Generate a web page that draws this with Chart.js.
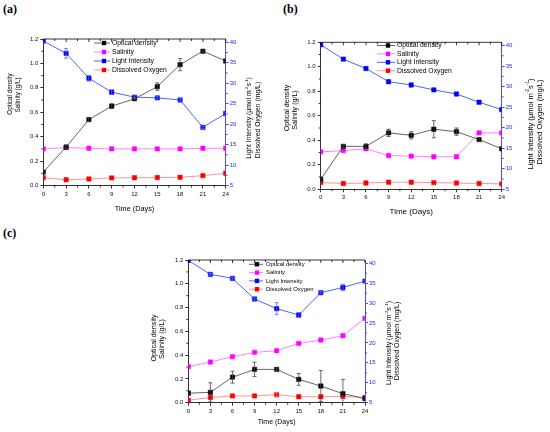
<!DOCTYPE html>
<html>
<head>
<meta charset="utf-8">
<script src="https://cdn.jsdelivr.net/npm/chart.js@4.4.1/dist/chart.umd.min.js"></script>
<style>
  body { margin: 0; background: #fff; }
  #wrap { position: relative; width: 550px; height: 432px; overflow: hidden; }
  canvas { position: absolute; }
  .lab { position: absolute; font: bold 12px "Liberation Serif", "DejaVu Serif", serif; color: #000; }
</style>
</head>
<body>
<div id="wrap">
  <div class="lab" style="left:3px;top:2px">(a)</div>
  <div class="lab" style="left:283px;top:2px">(b)</div>
  <div class="lab" style="left:3px;top:226px">(c)</div>
  <canvas id="ca" width="275" height="220" style="left:0;top:0"></canvas>
  <canvas id="cb" width="275" height="220" style="left:275px;top:0"></canvas>
  <canvas id="cc" width="290" height="212" style="left:130px;top:220px"></canvas>
</div>
<script>
// sampling days and tick labels
const days = [0, 3, 6, 9, 12, 15, 18, 21, 24];
const dayTicks = [0, 3, 6, 9, 12, 15, 18, 21, 24];
const leftTicks = [0, 0.2, 0.4, 0.6, 0.8, 1.0, 1.2];
const rightTicks = [5, 10, 15, 20, 25, 30, 35, 40];
const seriesNames = ['Optical density', 'Salinity', 'Light Intensity', 'Dissolved Oxygen'];

// (a)
const odA = [0.11, 0.315, 0.54, 0.65, 0.71, 0.81, 0.99, 1.10, 1.02];
const odErrA = [0.01, 0.01, 0.015, 0.02, 0.01, 0.03, 0.05, 0.01, 0.01];
const salA = [0.30, 0.31, 0.305, 0.30, 0.30, 0.30, 0.30, 0.305, 0.305];
const lightA = [40.3, 37.3, 31.2, 27.8, 26.6, 26.4, 25.9, 19.2, 22.6];
const lightErrA = [0.3, 1.2, 0.7, 0.6, 0.3, 0.3, 0.3, 0.3, 0.3];
const doA = [6.9, 6.4, 6.6, 6.85, 6.9, 6.95, 7.0, 7.4, 8.0];

// (b)
const odB = [0.08, 0.35, 0.35, 0.46, 0.44, 0.49, 0.47, 0.405, 0.33];
const odErrB = [0.02, 0.01, 0.02, 0.03, 0.03, 0.07, 0.03, 0.015, 0.01];
const salB = [0.305, 0.315, 0.33, 0.275, 0.27, 0.265, 0.265, 0.46, 0.46];
const lightB = [40.2, 36.7, 34.4, 31.2, 30.4, 29.2, 28.2, 26.2, 24.4];
const doB = [6.6, 6.4, 6.5, 6.7, 6.7, 6.6, 6.5, 6.4, 6.3];

// (c)
const odC = [0.08, 0.087, 0.215, 0.28, 0.28, 0.196, 0.14, 0.076, 0.034];
const odErrC = [0.02, 0.08, 0.05, 0.06, 0.01, 0.05, 0.13, 0.12, 0.01];
const salC = [0.303, 0.342, 0.387, 0.423, 0.437, 0.499, 0.527, 0.563, 0.709];
const lightC = [40.7, 37.2, 36.2, 31.0, 28.6, 27.0, 32.6, 33.9, 35.5];
const lightErrC = [0, 0.2, 0.2, 0.3, 1.5, 0.6, 0.3, 0.8, 0.3];
const doC = [5.6, 6.3, 6.7, 6.7, 7.0, 6.5, 6.5, 6.6, 6.3];
const doErrC = [0, 0, 0, 0, 0.5, 0, 0, 0, 0];

const FONT = '"Liberation Sans", Arial, sans-serif';
const BLUE = '#1f1fff';

// series look: line colour, marker colour
const styles = [
  { line: '#555555', mark: '#000000', err: '#444444' },
  { line: '#ff70ff', mark: '#ff00ff', err: '#ff66ff' },
  { line: '#4050ff', mark: '#0000ff', err: '#5566ff' },
  { line: '#ff8888', mark: '#ff0000', err: '#ff6666' }
];

function pts(vals) {
  return days.map((d, i) => ({ x: d, y: vals[i] }));
}

// rotated text made of pieces, [text, isSup]
function rotText(ctx, x, y, parts, size) {
  ctx.save();
  ctx.translate(x, y);
  ctx.rotate(-Math.PI / 2);
  ctx.fillStyle = '#000';
  ctx.textBaseline = 'middle';
  ctx.textAlign = 'left';
  let total = 0;
  parts.forEach(p => {
    ctx.font = (p[1] ? size * 0.62 : size) + 'px ' + FONT;
    total += ctx.measureText(p[0]).width;
  });
  let cx = -total / 2;
  parts.forEach(p => {
    ctx.font = (p[1] ? size * 0.62 : size) + 'px ' + FONT;
    ctx.fillText(p[0], cx, p[1] ? -size * 0.38 : 0);
    cx += ctx.measureText(p[0]).width;
  });
  ctx.restore();
}

function makeChart(id, P) {
  const errs = [P.odErr, null, P.lightErr || null, P.doErr || null];
  const vals = [P.od, P.sal, P.light, P.dox];
  const axes = ['y', 'y', 'y2', 'y2'];

  const datasets = vals.map((v, i) => ({
    label: seriesNames[i],
    data: pts(v),
    yAxisID: axes[i],
    errs: errs[i],
    borderColor: styles[i].line,
    borderWidth: 0.9,
    pointStyle: 'rect',
    pointRadius: 3.1,
    pointBackgroundColor: styles[i].mark,
    pointBorderColor: styles[i].mark,
    pointBorderWidth: 0.5,
    tension: 0
  }));

  const ox = P.canvas[0], oy = P.canvas[1];

  const decor = {
    id: 'decor',
    afterDatasetsDraw(chart) {
      const ctx = chart.ctx, a = chart.chartArea;
      ctx.save();
      ctx.beginPath();
      ctx.rect(a.left, a.top - 1, a.right - a.left, a.bottom - a.top + 2);
      ctx.clip();
      chart.data.datasets.forEach((ds, i) => {
        if (!ds.errs) return;
        const ys = chart.scales[ds.yAxisID];
        ctx.strokeStyle = styles[i].err;
        ctx.lineWidth = 0.8;
        ds.data.forEach((p, j) => {
          const e = ds.errs[j];
          if (!e) return;
          const px = chart.scales.x.getPixelForValue(p.x);
          const y1 = ys.getPixelForValue(p.y + e);
          const y2 = ys.getPixelForValue(p.y - e);
          ctx.beginPath();
          ctx.moveTo(px, y1); ctx.lineTo(px, y2);
          ctx.moveTo(px - 2, y1); ctx.lineTo(px + 2, y1);
          ctx.moveTo(px - 2, y2); ctx.lineTo(px + 2, y2);
          ctx.stroke();
        });
      });
      ctx.restore();
    },
    afterDraw(chart) {
      const ctx = chart.ctx, a = chart.chartArea;
      const sx = chart.scales.x, sy = chart.scales.y, sy2 = chart.scales.y2;
      ctx.save();
      ctx.lineWidth = 0.8;
      ctx.strokeStyle = '#000';
      // top frame with inward ticks
      ctx.beginPath();
      ctx.moveTo(a.left, a.top); ctx.lineTo(a.right, a.top);
      dayTicks.forEach(d => {
        const x = sx.getPixelForValue(d);
        ctx.moveTo(x, a.top); ctx.lineTo(x, a.top + 3);
        if (d < 24) {
          const xm = sx.getPixelForValue(d + 1.5);
          ctx.moveTo(xm, a.top); ctx.lineTo(xm, a.top + 2);
          ctx.moveTo(xm, a.bottom); ctx.lineTo(xm, a.bottom + 2);
        }
      });
      leftTicks.forEach(v => {
        if (v < 1.2) {
          const y = sy.getPixelForValue(v + 0.1);
          ctx.moveTo(a.left, y); ctx.lineTo(a.left - 2, y);
        }
      });
      ctx.stroke();
      ctx.strokeStyle = BLUE;
      ctx.beginPath();
      rightTicks.forEach(v => {
        const y = sy2.getPixelForValue(v + 2.5);
        if (y >= a.top) { ctx.moveTo(a.right, y); ctx.lineTo(a.right + 2, y); }
      });
      ctx.stroke();

      // legend inside the plot
      const L = P.legend;
      ctx.textBaseline = 'middle';
      ctx.textAlign = 'left';
      ctx.font = L.size + 'px ' + FONT;
      seriesNames.forEach((n, i) => {
        const y = L.y0 + i * L.dy - oy;
        ctx.strokeStyle = styles[i].line;
        ctx.lineWidth = 0.9;
        ctx.beginPath();
        ctx.moveTo(L.lx0 - ox, y); ctx.lineTo(L.lx1 - ox, y);
        ctx.stroke();
        ctx.fillStyle = styles[i].mark;
        ctx.fillRect(L.mx - ox - 2.2, y - 2.2, 4.4, 4.4);
        ctx.fillStyle = '#000';
        ctx.fillText(n, L.tx - ox, y);
      });

      // axis titles
      const T = P.titles;
      rotText(ctx, T.l1[0] - ox, T.l1[1] - oy, [['Optical density', false]], T.lsize);
      rotText(ctx, T.l2[0] - ox, T.l2[1] - oy, [['Salinity (g/L)', false]], T.lsize);
      rotText(ctx, T.r1[0] - ox, T.r1[1] - oy,
        [['Light Intensity (\u03bcmol m', false], ['-2', true], ['s', false], ['-1', true], [')', false]], T.rsize);
      rotText(ctx, T.r2[0] - ox, T.r2[1] - oy, [['Dissolved Oxygen (mg/L)', false]], T.rsize);
      ctx.fillStyle = '#000';
      ctx.textAlign = 'center';
      ctx.font = T.xsize + 'px ' + FONT;
      ctx.fillText('Time (Days)', (a.left + a.right) / 2, T.xy - oy);
      ctx.restore();
    }
  };

  const tickFont = { size: P.tick, family: FONT };

  return new Chart(document.getElementById(id), {
    type: 'line',
    data: { datasets },
    plugins: [decor],
    options: {
      responsive: false,
      animation: false,
      devicePixelRatio: 1,
      layout: { padding: { top: P.area[2] - oy, left: 0, right: 0, bottom: 0 } },
      plugins: { legend: { display: false }, tooltip: { enabled: false } },
      scales: {
        x: {
          type: 'linear', min: 0, max: 24,
          afterBuildTicks: s => { s.ticks = dayTicks.map(v => ({ value: v })); },
          afterFit: s => { s.height = oy + P.canvas[3] - P.area[3]; },
          border: { color: '#000', width: 0.8 },
          grid: { drawOnChartArea: false, tickLength: 3, color: '#000', lineWidth: 0.8 },
          ticks: { font: tickFont, color: '#111', padding: 2, maxRotation: 0, autoSkip: false }
        },
        y: {
          position: 'left', min: 0, max: 1.2,
          afterBuildTicks: s => { s.ticks = leftTicks.map(v => ({ value: v })); },
          afterFit: s => { s.width = P.area[0] - ox; },
          border: { color: '#000', width: 0.8 },
          grid: { drawOnChartArea: false, tickLength: 3, color: '#000', lineWidth: 0.8 },
          ticks: { font: tickFont, color: '#111', padding: 2, callback: v => v.toFixed(1) }
        },
        y2: {
          position: 'right', min: 5, max: 40.8,
          afterBuildTicks: s => { s.ticks = rightTicks.map(v => ({ value: v })); },
          afterFit: s => { s.width = ox + P.canvas[2] - P.area[1]; },
          border: { color: BLUE, width: 0.8 },
          grid: { drawOnChartArea: false, tickLength: 3, color: BLUE, lineWidth: 0.8 },
          ticks: { font: tickFont, color: BLUE, padding: 1 }
        }
      }
    }
  });
}

makeChart('ca', {
  canvas: [0, 0, 275, 220], area: [43.3, 225.7, 39, 185.5], tick: 6,
  od: odA, odErr: odErrA, sal: salA, light: lightA, lightErr: lightErrA, dox: doA,
  legend: { lx0: 94, lx1: 110, mx: 104, tx: 112, y0: 43, dy: 9, size: 6.8 },
  titles: { l1: [10, 94], l2: [18, 95], lsize: 6.3, r1: [249.5, 118], r2: [258, 120], rsize: 6.8, xsize: 7.3, xy: 209 }
});
makeChart('cb', {
  canvas: [275, 0, 275, 220], area: [320.7, 501.7, 42.3, 189.2], tick: 6,
  od: odB, odErr: odErrB, sal: salB, light: lightB, dox: doB,
  legend: { lx0: 377, lx1: 395, mx: 388, tx: 397, y0: 45.5, dy: 8.4, size: 6.8 },
  titles: { l1: [287.5, 108], l2: [295.5, 110], lsize: 7.1, r1: [530.5, 124], r2: [539.5, 122], rsize: 7.6, xsize: 8, xy: 212 }
});
makeChart('cc', {
  canvas: [130, 220, 290, 212], area: [188.3, 365, 260, 402.7], tick: 6,
  od: odC, odErr: odErrC, sal: salC, light: lightC, lightErr: lightErrC, dox: doC, doErr: doErrC,
  legend: { lx0: 249, lx1: 263, mx: 257, tx: 266, y0: 264.3, dy: 8.3, size: 5.9 },
  titles: { l1: [154.5, 338], l2: [162.5, 339], lsize: 7.2, r1: [389.5, 343], r2: [397.5, 341], rsize: 7, xsize: 7, xy: 422 }
});
</script>
</body>
</html>
